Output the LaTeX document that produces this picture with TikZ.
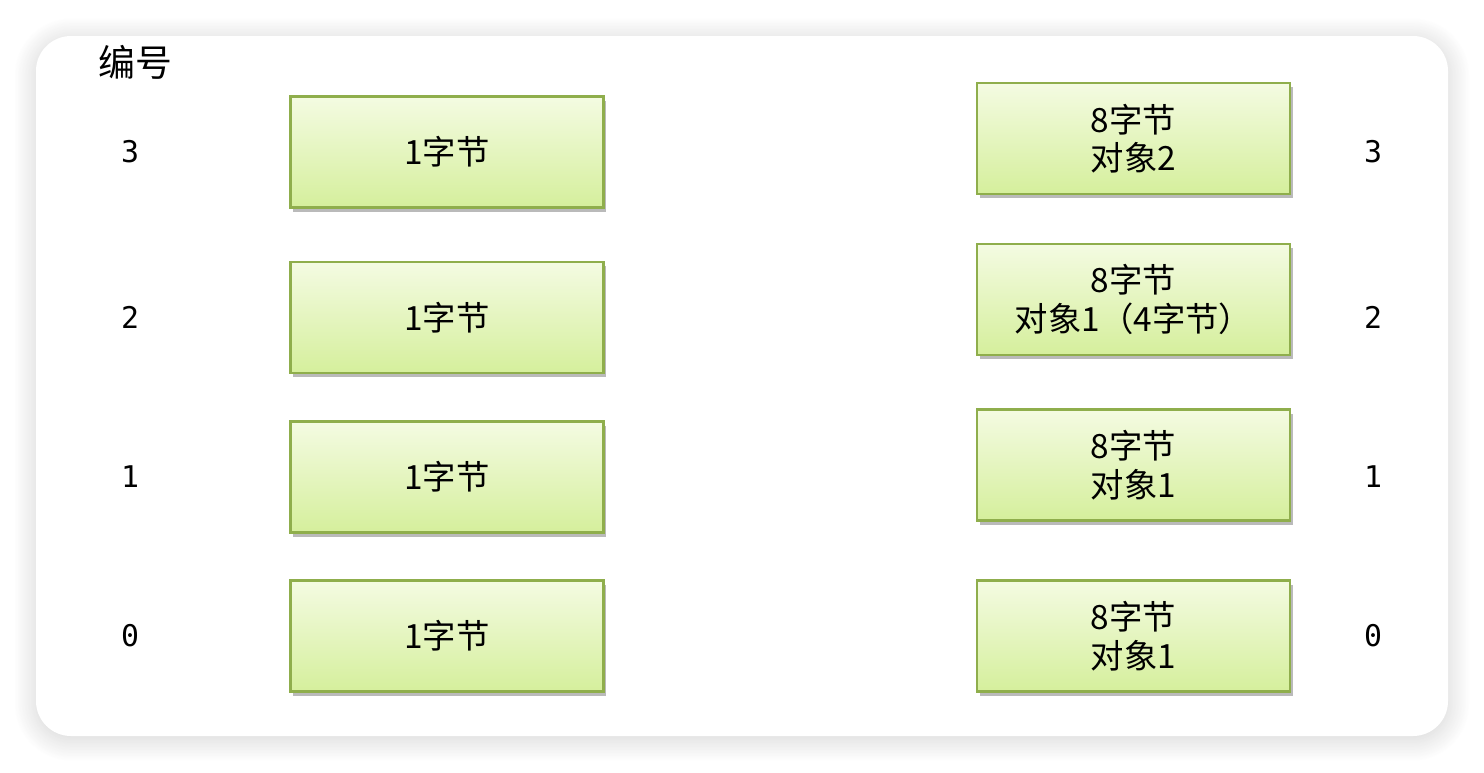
\documentclass[tikz,border=0pt]{standalone}
\usepackage{fontspec}
\setmainfont{Noto Sans CJK SC}
\setmonofont{DejaVu Sans Mono}
\usetikzlibrary{shadows,shadows.blur}
\definecolor{boxline}{HTML}{8FAE4C}
\definecolor{boxtop}{HTML}{F4FBE2}
\definecolor{boxbot}{HTML}{D5EF9C}

\begin{document}
\begin{tikzpicture}[x=0.02cm,y=-0.02cm,
    bytebox/.style={draw=boxline, line width=1.4pt, top color=boxtop, bottom color=boxbot,
      minimum width=6.26cm, minimum height=2.22cm, align=center,
      font=\fontsize{19}{22}\selectfont,
      drop shadow={shadow xshift=1.5pt, shadow yshift=-2.5pt, opacity=0.45, fill=black!60}},
    idx/.style={font=\ttfamily\fontsize{17}{20}\selectfont}]
        \useasboundingbox (0,0) rectangle (1484,772);
        \fill[white, rounded corners=0.7cm,
          blur shadow={shadow blur radius=0.45cm, shadow blur steps=30, shadow xshift=0pt,
            shadow yshift=-2pt, shadow opacity=18}]
          (36,36) rectangle (1448,736);

        \node[font=\fontsize{21}{24}\selectfont] (title) at (135,62) {编号};

        % left column and numbers
        \foreach \row/\ly in {3/152, 2/317.5, 1/477, 0/636}{
          \node[idx] (n\row) at (130,\ly) {\row};
          \node[bytebox] (b\row) at (447,\ly) {1字节};
          \node[idx] (m\row) at (1373,\ly) {\row};
        }

        % right column
        \node[bytebox] (r3) at (1133.5,138.5) {8字节\\对象2};
        \node[bytebox] (r2) at (1133.5,299.5) {8字节\\对象1（4字节）};
        \node[bytebox] (r1) at (1133.5,465) {8字节\\对象1};
        \node[bytebox] (r0) at (1133.5,636) {8字节\\对象1};
\end{tikzpicture}
\end{document}
